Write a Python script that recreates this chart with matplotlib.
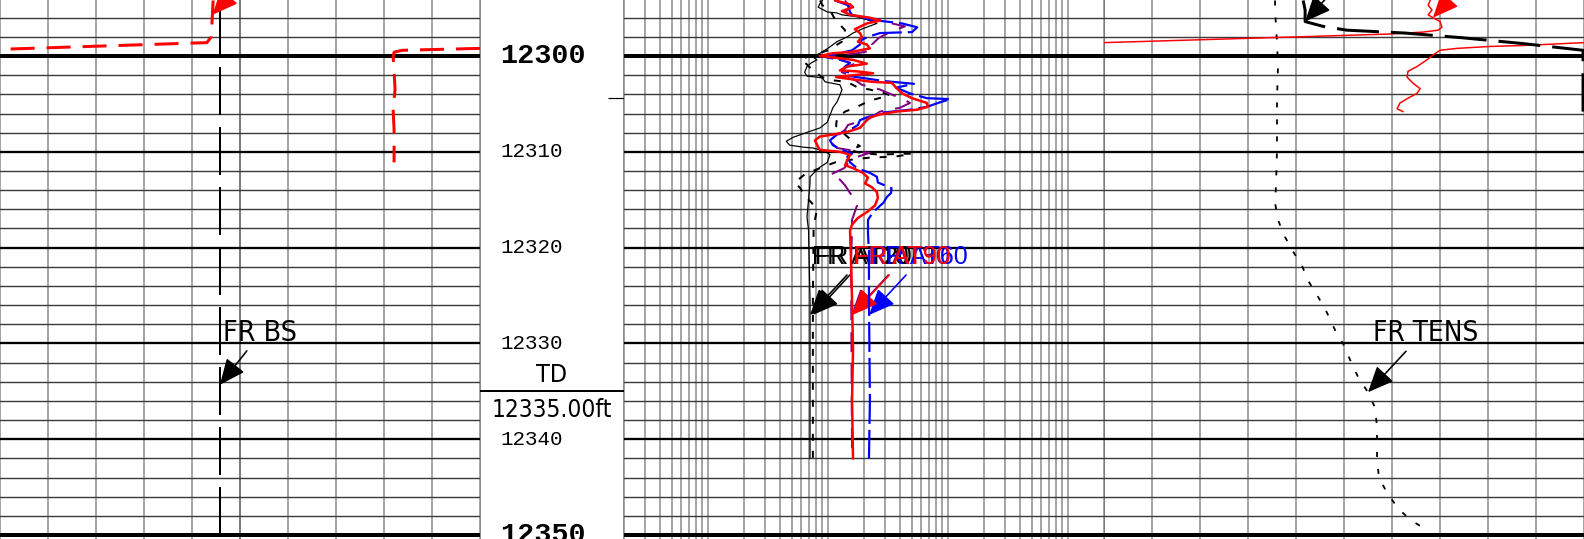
import numpy as np
import matplotlib
matplotlib.use("Agg")
import matplotlib.pyplot as plt
from matplotlib import font_manager as fm

W, H, DPI = 1584, 539, 100
PX = 72 / DPI                      # points per pixel
TOP, BASE = 12294.15, 12350.42     # depth at top / bottom of sheet (ft)
TD_DEPTH = 12335.00
MARK_DEPTH = 12304.4

plt.rcParams["lines.scale_dashes"] = False
SANS = ["Liberation Sans", "DejaVu Sans"]
MONO = ["Liberation Mono", "DejaVu Sans Mono"]


def narrow_font():
    """A condensed sans face for the header texts, if one is installed."""
    for f in fm.fontManager.ttflist:
        fn = f.fname.lower()
        if ("narrow" in f.name.lower() or "condensed" in fn) and "sans" in f.name.lower() \
                and "bold" not in fn and "oblique" not in fn and "italic" not in fn:
            return f.fname
    return None


NARROW_FILE = narrow_font()

# ---- track 1: bit size and caliper (in, 6-16) ----------------------------
BS_SCALE = (6, 16)
bs_depth = [12294.88, 12350.42]
bs = [10.58, 10.58]
cali_depth = [12294.2, 12296.2, 12298.0, 12298.6, 12299.3, np.nan,
              12299.2, 12299.4, 12299.6, 12300.1, 12301.5, 12303.5, 12305.6, 12307.7, 12311.1]
cali = [10.44, 10.42, 10.40, 10.31, 6.0, np.nan,
        16.0, 14.38, 14.21, 14.19, 14.21, 14.23, 14.19, 14.21, 14.21]

# ---- track 2: array induction resistivities (ohm.m, log 0.2-2000) --------
at10_depth = [12294.2, 12294.5, 12294.9, 12295.4, 12295.5, 12295.7, 12295.9, 12296.2, 12296.6,
              12297.1, 12297.6, 12298.0, 12298.5, 12299.2, 12299.7, 12300.1, 12300.4, 12300.7,
              12301.1, 12301.7, 12302.1, 12302.2, 12302.3, 12302.7, 12303.0, 12303.5, 12304.1,
              12304.8, 12305.4, 12306.2, 12306.9, 12307.5, 12308.0, 12308.5, 12308.9, 12309.3,
              12309.5, 12309.6, 12309.8, 12310.1, 12310.3, 12311.1, 12311.6, 12312.1, 12312.6,
              12313.3, 12315.0, 12316.8, 12318.2, 12325.5, 12342.0]
at10 = [9.0, 8.6, 8.3, 9.9, 11.9, 13.1, 17.5, 21.1, 25.6,
        19.9, 16.2, 14.5, 11.9, 10.0, 8.6, 7.5, 8.1, 7.3,
        6.7, 6.4, 6.7, 8.1, 9.0, 9.5, 12.6, 13.1, 12.6,
        11.9, 11.0, 10.4, 9.9, 8.6, 6.6, 5.1, 4.5, 4.8,
        6.1, 7.5, 8.6, 9.9, 10.4, 9.9, 8.6, 7.8, 7.1,
        7.1, 6.9, 6.7, 6.9, 7.1, 7.1]

at20_depth = [12294.2, 12294.7, 12295.2, 12296.2, 12297.3, 12298.5, 12299.4, 12299.8, 12300.3,
              12300.9, 12301.7, 12302.2, 12302.5, 12302.7, 12303.3, 12303.5, 12303.9, 12304.1,
              12304.6, 12304.9, 12305.4, 12305.8, 12306.5, 12307.3, 12308.2, 12309.1, 12309.4,
              12309.8, 12310.1, 12310.3, 12310.2, 12310.2, 12310.5, 12310.6, 12310.9, 12311.1,
              12311.7, 12312.3, 12313.2, 12313.8, 12314.5, 12315.3, 12316.1, 12317.1, 12318.2,
              12325.5, 12342.0]
at20 = [8.6, 9.0, 10.4, 11.5, 13.9, 13.1, 10.0, 8.1, 6.0,
        6.7, 7.8, 9.0, 10.4, 14.5, 17.8, 22.4, 29.9, 32.9,
        23.3, 20.4, 16.8, 13.9, 11.9, 11.7, 13.9, 16.8, 18.5,
        15.3, 18.5, 27.2, 39.9, 50.3, 36.3, 22.4, 13.9, 11.5,
        8.6, 6.5, 5.3, 5.9, 6.3, 7.3, 8.1, 7.8, 7.6,
        7.5, 7.5]

at30_depth = [12294.2, 12295.0, 12295.4, 12295.8, 12296.2, 12296.6, 12296.9, 12297.5, 12298.1,
              12298.8, 12299.4, 12299.7, 12300.0, 12300.4, 12300.8, 12301.2, 12301.7, 12302.0,
              12302.2, 12302.5, 12303.0, 12303.2, 12303.5, 12304.6, 12304.9, 12305.4, 12305.8,
              12306.5, 12307.2, 12307.7, 12308.5, 12309.1, 12309.6, 12310.0, 12310.1, 12310.6,
              12311.2, 12311.7, 12312.4, 12312.9, 12313.5, 12314.3, 12315.0, 12315.6, 12317.1,
              12318.2, 12321.3, 12342.0]
at30 = [13.9, 15.3, 13.9, 15.9, 27.2, 34.2, 43.9, 32.9, 26.6,
        23.3, 23.8, 17.8, 10.4, 13.9, 16.8, 13.9, 13.1, 15.3,
        13.9, 16.8, 19.2, 22.4, 27.2, 43.9, 48.3, 39.9, 27.2,
        22.4, 14.7, 13.9, 11.5, 10.8, 11.9, 18.5, 22.4, 16.8,
        14.7, 13.7, 10.4, 12.6, 13.9, 15.3, 16.8, 17.5, 15.9,
        15.9, 15.6, 15.9]

at60_depth = [12294.2, 12294.7, 12295.4, 12295.7, 12296.2, 12296.4, 12296.6, 12297.0, 12297.5,
              12297.6, 12298.0, 12298.3, 12298.8, 12299.4, 12299.8, 12300.0, 12300.2, 12300.4,
              12300.7, 12301.1, 12301.5, 12301.8, 12302.1, 12302.4, 12302.6, 12302.9, 12303.3,
              12303.9, 12304.4, 12304.5, 12304.7, 12305.3, 12305.6, 12305.9, 12306.4, 12306.7,
              12307.2, 12307.7, 12308.2, 12308.8, 12309.3, 12309.8, 12310.2, 12310.5, 12311.1,
              12311.7, 12312.2, 12312.6, 12313.2, 12313.8, 12314.3, 12314.7, 12315.3, 12316.3,
              12317.1, 12318.5, 12320.5, 12325.5, 12335.9, 12342.0]
at60 = [11.5, 14.7, 15.3, 15.9, 22.4, 30.5, 41.6, 55.5, 50.3,
        27.2, 21.6, 19.2, 18.5, 15.9, 11.7, 8.6, 10.4, 12.6,
        15.3, 13.9, 13.1, 15.9, 15.3, 22.4, 28.7, 52.2, 37.0,
        48.3, 66.8, 106.0, 92.4, 66.8, 48.3, 28.7, 21.1, 18.5,
        17.8, 15.3, 11.9, 10.4, 11.0, 13.1, 15.9, 14.5, 15.3,
        17.5, 22.4, 25.6, 26.1, 33.9, 33.6, 31.1, 29.1, 23.8,
        21.6, 21.6, 22.0, 22.0, 22.4, 22.0]

at90_depth = [12294.2, 12294.6, 12294.9, 12295.3, 12295.7, 12296.0, 12296.3, 12296.6, 12297.2,
              12297.6, 12298.0, 12298.5, 12298.8, 12299.2, 12299.6, 12299.7, 12300.0, 12300.2,
              12300.4, 12300.8, 12301.1, 12301.5, 12301.6, 12301.8, 12302.0, 12302.2, 12302.4,
              12302.5, 12302.7, 12302.8, 12303.3, 12303.9, 12304.4, 12304.9, 12305.3, 12305.6,
              12305.8, 12306.1, 12306.4, 12306.9, 12307.5, 12307.9, 12308.2, 12308.4, 12308.8,
              12309.5, 12309.8, 12310.0, 12310.3, 12310.9, 12311.4, 12311.7, 12312.2, 12312.7,
              12313.3, 12313.7, 12314.2, 12314.8, 12315.6, 12316.3, 12316.9, 12317.6, 12318.2,
              12321.3, 12325.5, 12330.7, 12335.9, 12342.0]
at90 = [11.5, 15.3, 16.2, 13.1, 15.3, 22.4, 27.2, 21.1, 16.8,
        18.5, 19.2, 17.8, 21.1, 22.4, 15.3, 11.0, 8.6, 11.9,
        16.2, 21.1, 14.5, 12.6, 17.5, 23.8, 16.2, 11.7, 15.3,
        17.8, 23.8, 34.2, 37.0, 41.6, 50.3, 66.8, 68.1, 55.5,
        37.0, 27.2, 22.4, 20.4, 18.5, 14.7, 11.0, 8.6, 7.8,
        8.3, 8.6, 12.6, 15.3, 14.5, 13.9, 16.2, 19.6, 21.6,
        20.4, 23.3, 25.6, 26.1, 24.7, 21.1, 17.8, 15.9, 15.3,
        15.6, 15.9, 16.2, 15.9, 16.2]

# ---- track 3 -------------------------------------------------------------
TENS_SCALE = (0, 10000)
tens_depth = [12294.2, 12295.2, 12298.6, 12301.1, 12304.6, 12309.8, 12313.6, 12315.3, 12317.1,
              12318.7, 12320.4, 12321.9, 12323.6, 12325.3, 12326.8, 12328.6, 12330.0, 12331.7,
              12333.5, 12335.1, 12336.7, 12338.7, 12340.4, 12342.2, 12344.0, 12345.6, 12347.2,
              12348.4, 12349.5]
tens = [3563, 3563, 3604, 3625, 3604, 3604, 3583, 3563, 3625,
        3750, 3938, 4125, 4271, 4479, 4646, 4813, 4979, 5125,
        5292, 5500, 5646, 5688, 5688, 5688, 5729, 5896, 6125,
        6375, 6729]

RED3_SCALE = (0, 150)
red3_depth = [12294.2, 12294.7, 12295.2, 12295.7, 12296.0, 12296.4, 12297.0, 12297.3, 12297.5,
              12297.7, 12298.0, 12298.3, 12298.6, np.nan,
              12298.6, 12298.9, 12299.0, 12299.2, 12299.4, 12299.9, 12300.4, 12301.1, 12301.6,
              12302.2, 12302.85, 12303.4, 12303.9, 12304.4, 12304.9, 12305.5, 12305.8]
red3 = [101.9, 101.3, 102.5, 101.3, 102.8, 105.0, 105.6, 104.4, 99.7,
        89.4, 60.3, 30.0, 0.0, np.nan,
        150.0, 130.9, 120.6, 110.3, 105.0, 102.8, 100.9, 97.8, 95.0,
        94.7, 96.6, 98.8, 97.8, 95.0, 92.5, 91.6, 93.4]

DASH3_SCALE = (0, 100)
dash3_depth = [12294.2, 12295.2, 12296.4, 12296.9, 12297.3, 12297.6, 12298.1, 12298.7, 12299.4, 12305.8]
dash3 = [41.5, 41.9, 41.9, 45.6, 50.6, 62.7, 74.8, 87.3, 99.8, 99.8]

ARROW_DEPTH = 12327.03   # where the resistivity labels point


def track(x0, x1):
    ax = fig.add_axes([x0 / W, 0, (x1 - x0) / W, 1])
    ax.set_ylim(BASE, TOP)
    ax.axis("off")
    return ax


def depth_lines(ax):
    for d in range(12294, 12352, 2):
        if d % 50 == 0:
            lw, c = 4.0, "black"
        elif d % 10 == 0:
            lw, c = 2.3, "black"
        else:
            lw, c = 1.4, "#3a3a3a"
        ax.axhline(d, color=c, lw=lw * PX, zorder=1)


def linear_grid(ax, dark=()):
    ax.set_xlim(0, 10)
    for i in range(11):
        ax.axvline(i, color="#7c7c7c" if i in dark else "#a6a6a6", lw=2 * PX, zorder=0.5)
    depth_lines(ax)


def overlay(ax, lo, hi):
    t = ax.twiny()
    t.set_xlim(lo, hi)
    t.set_ylim(BASE, TOP)
    t.axis("off")
    return t


def narrow_kw(size):
    if NARROW_FILE:
        return dict(fontproperties=fm.FontProperties(fname=NARROW_FILE, size=size))
    return dict(family=SANS, fontsize=size * 0.86)


def arrow(ax, x, d, color, dx=36, dy=40):
    ax.annotate("", xy=(x, d), xytext=(dx, dy), textcoords="offset pixels",
                annotation_clip=False,
                arrowprops=dict(arrowstyle="-|>,head_length=0.8,head_width=0.35",
                                mutation_scale=20, color=color, lw=1.6 * PX,
                                shrinkA=0, shrinkB=0))


def label(ax, x, d, text, color, dx, dy, **kw):
    ax.annotate(text, xy=(x, d), xytext=(dx, dy), textcoords="offset pixels",
                ha="left", va="center", color=color, annotation_clip=False, **kw)


fig = plt.figure(figsize=(W / DPI, H / DPI), dpi=DPI)
fig.patch.set_facecolor("white")

# ---- track 1 -------------------------------------------------------------
ax1 = track(0, 480)
linear_grid(ax1, dark=(5,))
t1 = overlay(ax1, *BS_SCALE)
t1.plot(cali, cali_depth, color="red", lw=3 * PX, ls=(0, (24 * PX, 12 * PX)), zorder=3)
t1.plot(bs, bs_depth, color="black", lw=2 * PX, ls=(0, (48 * PX, 12 * PX)), zorder=3)
arrow(t1, np.interp(12295.7, cali_depth[:4], cali[:4]), 12295.7, "red")
bs_tip = 12334.33
arrow(t1, bs[0], bs_tip, "black", dx=27, dy=34)
label(t1, bs[0], bs_tip, "FR BS", "black", 3, 52, **narrow_kw(20.5))

# ---- depth track ---------------------------------------------------------
axd = track(480, 624)
axd.set_xlim(0, 144)
for xb in (0, 144):
    axd.axvline(xb, color="#8c8c8c", lw=2 * PX, zorder=1)
for d in range(12300, 12360, 10):
    bold = d % 50 == 0
    axd.text(20, d, str(d), ha="left", va="center", family=MONO,
             fontsize=20.5 if bold else 15, fontweight="bold" if bold else "normal")
axd.axhline(TD_DEPTH, color="black", lw=2 * PX)
axd.hlines(MARK_DEPTH, 128, 144, color="black", lw=1.2 * PX)
axd.annotate("TD", xy=(72, TD_DEPTH), xytext=(0, 16), textcoords="offset pixels",
             ha="center", va="center", **narrow_kw(18))
axd.annotate(f"{TD_DEPTH:.2f}ft", xy=(72, TD_DEPTH), xytext=(0, -19), textcoords="offset pixels",
             ha="center", va="center", **narrow_kw(17.5))

# ---- track 2: resistivity ------------------------------------------------
ax2 = track(624, 1104)
ax2.set_xscale("log")
ax2.set_xlim(0.2, 2000)
for e in range(-1, 4):
    for m in range(1, 10):
        v = m * 10.0 ** e
        if 0.2 <= v <= 2000:
            ax2.axvline(v, color="#a6a6a6", lw=2 * PX, zorder=0.5)
depth_lines(ax2)

curves = [
    ("FR AT10", at10_depth, at10, "black", 1.2, "-"),
    ("FR AT20", at20_depth, at20, "black", 2.0, (0, (7 * PX, 10 * PX))),
    ("FR AT30", at30_depth, at30, "#800080", 2.0, (0, (20 * PX, 12 * PX))),
    ("FR AT60", at60_depth, at60, "blue", 2.2, (0, (30 * PX, 6 * PX))),
    ("FR AT90", at90_depth, at90, "red", 2.5, "-"),
]
for i, (name, dep, val, c, lw, ls) in enumerate(curves):
    ax2.plot(val, dep, color=c, lw=lw * PX, ls=ls, zorder=3 + i * 0.1)
for name, dep, val, c, lw, ls in curves:
    tip = np.interp(ARROW_DEPTH, dep, val)
    arrow(ax2, tip, ARROW_DEPTH, c, dx=37, dy=40)
    label(ax2, tip, ARROW_DEPTH, name, c, 2, 58, family=SANS, fontsize=18)

# ---- track 3 -------------------------------------------------------------
ax3 = track(1104, 1584)
linear_grid(ax3, dark=(0,))
t3a = overlay(ax3, *TENS_SCALE)
t3a.plot(tens, tens_depth, color="black", lw=1.8 * PX, ls=(0, (5 * PX, 12 * PX)), zorder=3)
tens_tip = 12335.1
tens_at_tip = np.interp(tens_tip, tens_depth, tens)
arrow(t3a, tens_at_tip, tens_tip, "black", dx=38, dy=41)
label(t3a, tens_at_tip, tens_tip, "FR TENS", "black", 5, 59, **narrow_kw(20))

t3b = overlay(ax3, *RED3_SCALE)
t3b.plot(red3, red3_depth, color="red", lw=1.5 * PX, zorder=3)
arrow(t3b, red3[4], red3_depth[4], "red")

t3c = overlay(ax3, *DASH3_SCALE)
t3c.plot(dash3, dash3_depth, color="black", lw=3 * PX, ls=(0, (42 * PX, 12 * PX)), zorder=3)
arrow(t3c, dash3[2], dash3_depth[2], "black")

fig.savefig("out.png", dpi=DPI, facecolor="white")
